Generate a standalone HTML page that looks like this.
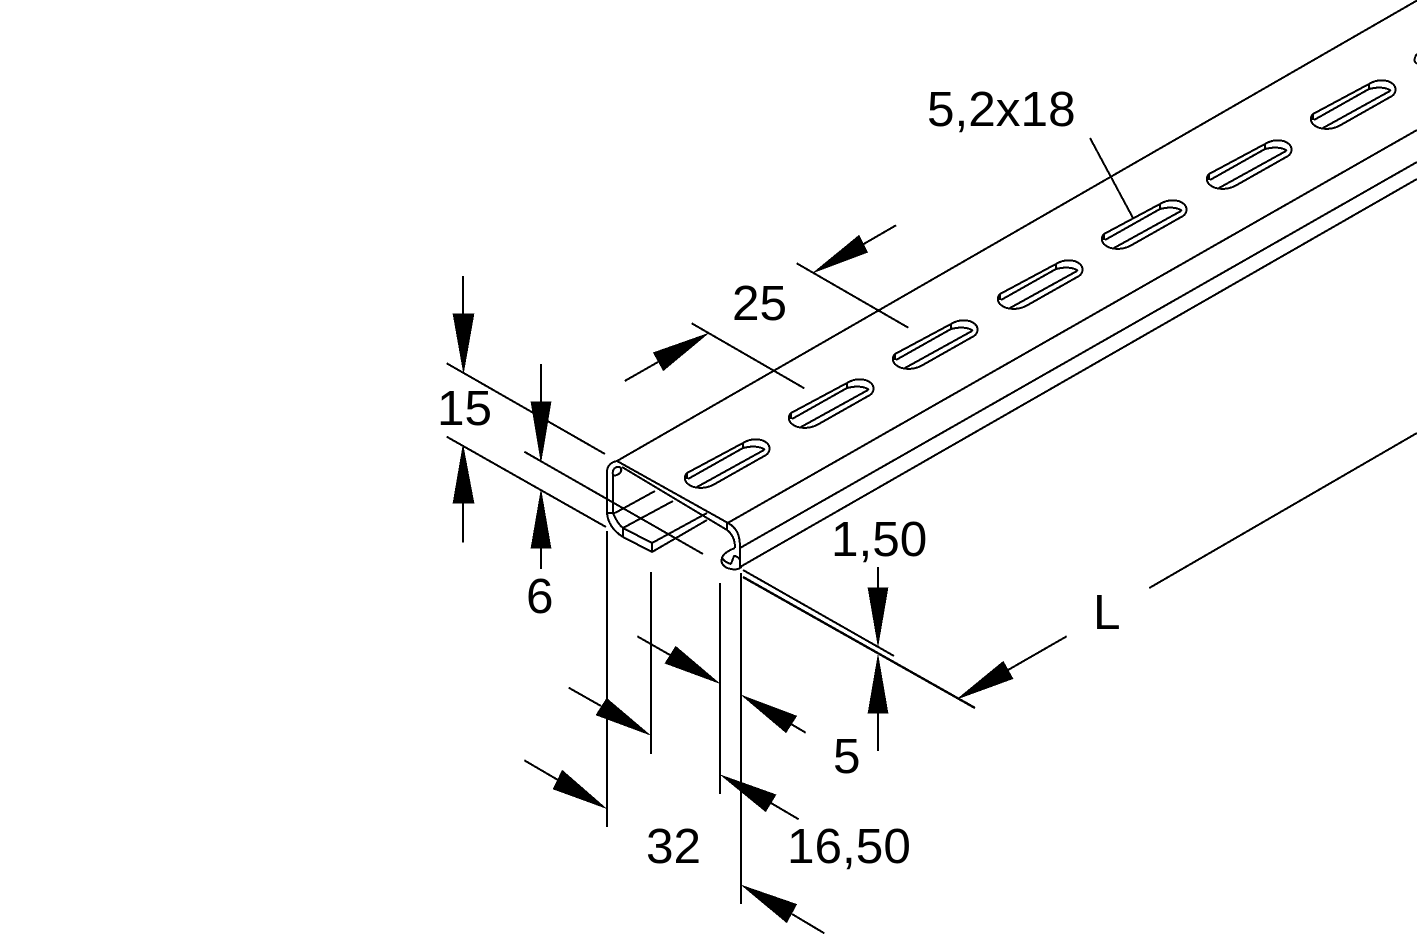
<!DOCTYPE html>
<html><head><meta charset="utf-8"><style>
html,body{margin:0;padding:0;background:#fff}
svg{display:block}
text{font-family:"Liberation Sans",sans-serif;font-size:49.5px;fill:#000}
.l{fill:none;stroke:#000;stroke-width:2;stroke-linejoin:round}
.d{fill:none;stroke:#000;stroke-width:2}
.a{fill:#000;stroke:#000;stroke-width:.6}
</style></head><body>
<svg width="1417" height="946" viewBox="0 0 1417 946" xmlns="http://www.w3.org/2000/svg" shape-rendering="crispEdges">
<defs>
<g id="s" class="l">
<path d="M2,34L58,4C66,-1 76,-1 82,4C86,8 85,13 81,16L28,46C20,50 9,50 3,45C-1,42 -1,37 2,34Z"/>
<path d="M2,34V40M58,4V9M3,40L58,9L63,8C70,7 77,8 80,11M12,48L79,11"/>
</g>
</defs>
<rect width="1417" height="946" fill="#fff"/>
<!-- rail long edges -->
<g class="l">
<path d="M617,461L1417,0.5"/>
<path d="M727.7,523L1417,130"/>
<path d="M740,548L1417,162"/>
<path d="M740,567L1417,179"/>
</g>
<!-- slots -->
<use href="#s" x="685" y="439"/>
<use href="#s" x="789" y="379"/>
<use href="#s" x="893" y="320"/>
<use href="#s" x="998" y="260"/>
<use href="#s" x="1102" y="200"/>
<use href="#s" x="1207" y="140"/>
<use href="#s" x="1311" y="80"/>
<path class="l" d="M1417,54C1415,56 1414,60 1415,62L1417,64"/>
<!-- profile end -->
<g class="l">
<path d="M617,461C611,462 607,466 607,472V513C608,524 615,532 623,537L652,552L707,520"/>
<path d="M617,461L728,523C737,528 740,535 740,548V567"/>
<path d="M622,467L727,530C732,534 735,539 735,548"/>
<path d="M613,475V513C616,520 619,525 623,528L652,543L707,513"/>
<path d="M607,513H615M652,543V552M623,528V537M727,523V530"/>
<path d="M615,513L655,491M623,528L673,501"/>
<path d="M613,475C612,471 614,467 618,467C622,467 622,471 620,473C618,475 615,476 613,475Z"/>
<path d="M735,548C729,550 723,554 722,558C720,563 724,568 731,569C736,570 740,569 742,566"/>
<path d="M722,558C724,561 727,563 731,564M731,564L734,556C737,556 739,558 740,560"/>
</g>
<!-- extension lines -->
<g class="d">
<path d="M446.7,363.3L605,454"/>
<path d="M446.7,436.7L606,527"/>
<path d="M524.3,451.7L703,554"/>
<path d="M607,531V827M651,572V754M720,583V794M741,573V904"/>
<path d="M743,570L894,656"/>
<path d="M743,577L975,708" stroke-width="2.4"/>
<path d="M796.7,263.3L908.3,327.7M691.7,323.3L804.3,388.3"/>
<path d="M1090,138L1133,218"/>
<path d="M1149.3,588L1417,433"/>
<!-- arrow shafts -->
<path d="M463,276V314M463,503V542.7M541,364V402M541,548V569"/>
<path d="M878,567V590M878,713V751"/>
<path d="M896,225.3L862,245M624.7,381L658,362M1066.7,636.3L1008,670"/>
<path d="M524.3,760.3L558,780M568.7,687.7L601,706M637.3,636.3L670,655"/>
<path d="M805.7,732.7L791,724M798.7,819.3L771,803M824.3,933.3L792,914"/>
</g>
<!-- arrowheads -->
<g class="a">
<path d="M453,314H474L463.5,373Z"/>
<path d="M453,503H474L463,445Z"/>
<path d="M531,402H551L541,462Z"/>
<path d="M531,548H551L541,490Z"/>
<path d="M868,588H888L878,646Z"/>
<path d="M868,713H888L878,655Z"/>
<path d="M813.3,272.7L859,235.3L867.7,252.3Z"/>
<path d="M708.3,333.3L653.3,352.7L663.3,370.7Z"/>
<path d="M957.3,699L1003.3,661.3L1013,678.7Z"/>
<path d="M606,808.3L562.3,770.3L553,789Z"/>
<path d="M650,735L606.7,698.3L596,715Z"/>
<path d="M719.3,683.3L675.7,646.3L665,663.3Z"/>
<path d="M741.7,695.3L796.7,716L786,732.7Z"/>
<path d="M720.7,775L776,794.7L765.7,811.7Z"/>
<path d="M741.7,885.3L796.7,904.3L786.7,922.7Z"/>
</g>
<!-- labels -->
<text x="927" y="126">5,2x18</text>
<text x="732" y="320">25</text>
<text x="437" y="425">15</text>
<text x="526" y="613">6</text>
<text x="831" y="556">1,50</text>
<text x="1093" y="629">L</text>
<text x="833" y="773">5</text>
<text x="646" y="863">32</text>
<text x="787" y="863">16,50</text>
</svg>
</body></html>
